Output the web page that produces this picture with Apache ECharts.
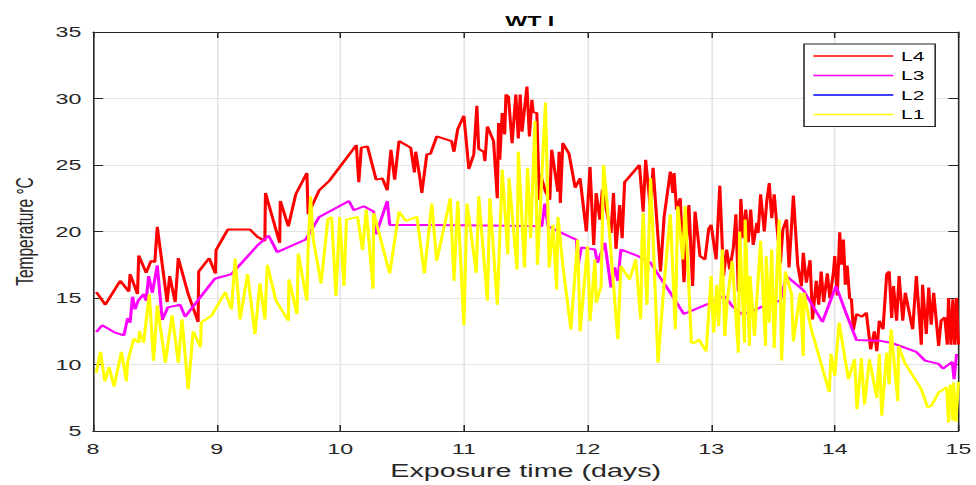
<!DOCTYPE html>
<html>
<head>
<meta charset="utf-8">
<script src="https://cdn.jsdelivr.net/npm/echarts@6/dist/echarts.min.js"></script>
<style>
html,body{margin:0;padding:0;background:#fff;overflow:hidden;}
#wrap{width:976px;height:485px;overflow:hidden;}
#chart{height:485px;transform-origin:0 0;}
</style>
</head>
<body>
<div id="wrap"><div id="chart"></div></div>
<script>
const seriesNames = ['L4', 'L3', 'L2', 'L1'];
const xTicks = [8, 9, 10, 11, 12, 13, 14, 15];
const yTicks = [5, 10, 15, 20, 25, 30, 35];

const l4X = [8.027,8.10,8.22,8.29,8.30,8.36,8.37,8.43,8.47,8.50,8.52,8.60,8.62,8.665,8.69,8.77,8.85,8.855,8.94,8.99,8.995,9.09,9.27,9.33,9.39,9.395,9.51,9.515,9.58,9.64,9.73,9.74,9.83,9.91,10.13,10.15,10.17,10.22,10.29,10.34,10.38,10.41,10.44,10.475,10.57,10.60,10.61,10.64,10.66,10.70,10.73,10.78,10.90,10.92,10.95,11.00,11.04,11.08,11.105,11.12,11.16,11.17,11.19,11.24,11.27,11.28,11.29,11.31,11.33,11.34,11.36,11.39,11.42,11.44,11.455,11.47,11.51,11.53,11.55,11.56,11.59,11.61,11.62,11.66,11.695,11.71,11.76,11.77,11.78,11.80,11.85,11.90,11.94,11.99,12.02,12.05,12.07,12.10,12.12,12.19,12.21,12.23,12.26,12.28,12.30,12.42,12.45,12.47,12.51,12.53,12.59,12.62,12.67,12.69,12.70,12.72,12.75,12.78,12.82,12.85,12.87,12.91,12.95,12.98,13.00,13.04,13.07,13.10,13.125,13.15,13.18,13.20,13.22,13.24,13.26,13.28,13.30,13.32,13.34,13.37,13.38,13.40,13.43,13.45,13.47,13.49,13.51,13.53,13.56,13.58,13.61,13.63,13.665,13.70,13.73,13.745,13.77,13.80,13.82,13.85,13.87,13.89,13.91,13.94,13.96,13.99,14.00,14.02,14.04,14.055,14.07,14.085,14.10,14.12,14.135,14.15,14.175,14.22,14.255,14.29,14.32,14.34,14.36,14.39,14.42,14.44,14.46,14.475,14.50,14.52,14.55,14.57,14.63,14.66,14.70,14.71,14.74,14.76,14.78,14.80,14.84,14.86,14.89,14.91,14.92,14.94,14.955,14.97,14.985,15.0];
const l4Y = [15.45,14.5,16.3,15.5,16.8,15.3,18.2,16.9,17.8,17.7,20.35,14.7,16.65,14.7,18.0,15.3,13.2,17.0,18.0,16.85,18.6,20.15,20.15,19.6,19.3,22.9,19.15,22.3,20.4,22.8,24.4,21.3,23.1,23.8,26.5,23.7,26.3,26.4,23.9,24.0,23.1,26.15,23.9,26.8,26.3,24.45,26.0,24.3,22.9,25.8,25.85,27.15,26.8,26.0,27.7,28.7,24.7,25.8,29.45,26.2,26.0,25.3,27.9,26.8,22.5,28.15,25.4,28.9,27.3,30.3,30.15,26.65,30.3,27.0,30.3,27.5,30.9,27.15,29.9,29.0,28.9,22.4,24.3,23.0,22.4,26.15,23.0,26.0,22.15,26.65,25.85,23.3,24.0,20.0,24.85,19.0,22.9,20.9,23.15,19.9,22.9,18.7,22.0,19.5,23.7,25.0,21.5,25.4,21.65,24.8,17.0,21.15,24.5,22.9,24.4,21.65,22.5,16.2,22.0,15.9,21.5,18.15,17.9,20.2,20.5,17.9,23.45,16.65,18.65,17.15,18.8,21.3,15.5,22.45,19.5,21.65,19.2,21.65,19.0,20.65,19.9,22.8,20.0,22.3,23.65,21.0,22.8,20.6,17.65,20.15,20.9,17.3,22.7,17.5,15.9,18.4,16.15,17.85,13.4,16.3,14.5,17.0,14.7,16.85,15.0,17.0,18.15,15.2,19.95,17.5,19.4,16.0,17.45,15.0,14.9,12.6,13.8,13.6,13.9,11.15,12.5,11.0,13.3,12.65,16.8,17.0,13.5,15.9,13.3,16.65,13.3,15.4,12.65,16.65,11.5,16.0,12.3,15.8,13.0,15.4,11.4,13.3,13.55,11.5,15.0,11.5,14.9,11.5,15.0,11.5];

const l3X = [8.027,8.075,8.18,8.25,8.28,8.30,8.32,8.34,8.365,8.41,8.43,8.45,8.48,8.52,8.56,8.605,8.705,8.745,8.985,9.12,9.335,9.42,9.49,9.72,9.83,10.07,10.11,10.19,10.27,10.29,10.38,10.40,10.74,11.63,11.655,11.68,11.79,11.87,11.91,11.92,11.95,12.06,12.08,12.14,12.19,12.22,12.245,12.27,12.41,12.51,12.58,12.67,12.78,12.97,13.11,13.17,13.25,13.33,13.48,13.56,13.61,13.745,13.90,14.01,14.09,14.175,14.36,14.47,14.66,14.73,14.84,14.875,14.95,14.965,14.985];
const l3Y = [12.45,12.95,12.4,12.2,13.5,13.15,15.1,14.15,14.8,15.3,14.8,16.65,15.4,17.45,13.35,14.3,14.5,13.6,16.45,16.8,19.0,19.7,18.45,19.4,21.1,22.3,21.6,21.9,21.5,19.8,22.3,20.5,20.5,20.4,22.1,20.4,19.9,19.55,19.4,17.3,18.8,18.65,17.65,19.15,15.8,17.3,16.3,18.65,18.15,17.65,16.65,15.4,13.8,14.55,15.15,14.4,13.8,14.0,14.65,14.8,16.65,15.6,13.2,15.9,13.9,11.85,11.8,11.6,10.95,10.3,10.05,9.7,10.2,8.9,10.8];

const l2X = [];
const l2Y = [];

const l1X = [8.027,8.06,8.095,8.13,8.17,8.23,8.27,8.28,8.33,8.37,8.375,8.41,8.455,8.49,8.52,8.585,8.64,8.69,8.72,8.77,8.81,8.87,8.875,8.96,9.07,9.12,9.15,9.19,9.25,9.31,9.35,9.39,9.41,9.48,9.58,9.585,9.65,9.66,9.73,9.74,9.76,9.78,9.845,9.90,9.93,9.965,9.995,10.03,10.05,10.14,10.18,10.21,10.265,10.27,10.40,10.475,10.53,10.62,10.68,10.74,10.78,10.89,10.92,10.95,11.00,11.025,11.10,11.12,11.19,11.21,11.27,11.31,11.355,11.365,11.43,11.44,11.49,11.515,11.54,11.575,11.595,11.66,11.69,11.72,11.75,11.76,11.80,11.865,11.92,11.94,12.00,12.02,12.06,12.07,12.11,12.13,12.16,12.245,12.27,12.34,12.39,12.43,12.44,12.45,12.48,12.51,12.53,12.57,12.62,12.67,12.71,12.73,12.77,12.79,12.84,12.87,12.90,12.96,13.00,13.02,13.045,13.06,13.09,13.11,13.13,13.17,13.22,13.23,13.27,13.275,13.31,13.315,13.35,13.40,13.44,13.445,13.47,13.49,13.51,13.53,13.55,13.57,13.60,13.65,13.665,13.72,13.745,13.75,13.81,13.955,13.97,14.00,14.035,14.11,14.16,14.18,14.215,14.24,14.28,14.34,14.36,14.38,14.42,14.44,14.455,14.51,14.515,14.565,14.70,14.75,14.78,14.84,14.905,14.92,14.935,14.955,14.96,14.98,15.0];
const l1Y = [9.4,10.95,8.75,9.8,8.35,10.95,8.75,10.2,11.95,11.65,12.5,11.65,15.3,10.3,14.45,10.15,13.7,10.15,13.4,8.15,12.5,11.3,13.15,13.7,15.45,14.15,17.95,13.4,16.8,12.3,16.1,13.4,17.5,14.8,13.3,16.4,13.8,18.35,14.8,18.8,22.65,19.5,16.1,20.95,21.1,15.15,21.1,15.9,20.9,21.1,18.6,21.65,15.7,21.4,16.85,21.5,20.8,21.1,16.85,22.1,17.8,22.5,16.3,22.3,12.95,22.1,16.9,22.65,14.8,22.5,14.5,24.65,18.3,24.0,17.15,26.0,17.3,24.8,19.5,28.3,17.5,29.7,17.3,20.5,15.65,21.1,17.5,12.65,19.4,12.5,18.9,13.3,17.9,14.65,15.9,25.0,21.9,11.9,17.4,16.4,17.9,13.4,19.15,21.4,14.5,24.0,19.65,10.15,16.15,21.3,12.65,21.9,17.9,21.9,11.65,11.65,11.9,11.0,16.65,12.4,16.0,12.9,18.65,12.15,14.8,17.8,10.9,20.0,11.65,20.9,11.4,16.65,12.15,19.3,11.4,18.15,13.15,18.65,11.25,16.4,20.9,10.3,17.0,15.3,11.75,15.4,10.65,15.4,12.65,7.95,10.8,9.15,13.15,8.9,10.4,6.65,10.5,7.0,10.4,7.5,10.8,6.15,10.9,8.5,12.65,7.25,11.4,10.15,8.15,6.8,6.9,7.9,8.3,5.65,8.5,5.8,8.65,5.7,8.7];

function zip(xs, ys) { return xs.map((x, i) => [x, ys[i]]); }

// The reference figure is stretched horizontally; draw at a narrower width and stretch.
const S = 1.55;
const W = 976 / S;
const el = document.getElementById('chart');
el.style.width = W + 'px';
el.style.transform = 'scaleX(' + S + ')';

const colors = ['#ff0000', '#ff00ff', '#0000ff', '#ffff00'];
const seriesData = [zip(l4X, l4Y), zip(l3X, l3Y), zip(l2X, l2Y), zip(l1X, l1Y)];

const axisColor = '#262626';
const font = '"Liberation Sans", Arial, Helvetica, sans-serif';

const chart = echarts.init(el, null, {renderer: 'svg', width: W, height: 485});
const baseX = {
  type: 'value', min: xTicks[0], max: xTicks[xTicks.length - 1], interval: 1,
  axisLine: {show: true, onZero: false, lineStyle: {color: axisColor, width: 1}},
  axisTick: {show: true, inside: true, length: 6, lineStyle: {color: axisColor}},
  splitLine: {show: false}
};
const baseY = {
  type: 'value', min: yTicks[0], max: yTicks[yTicks.length - 1], interval: 5,
  axisLine: {show: true, onZero: false, lineStyle: {color: axisColor, width: 1}},
  axisTick: {show: true, inside: true, length: 6.5, lineStyle: {color: axisColor}},
  splitLine: {show: false}
};

chart.setOption({
  animation: false,
  backgroundColor: '#ffffff',
  title: {
    text: 'WT I', left: 522 / S, top: 8, textAlign: 'center',
    textStyle: {fontFamily: font, fontWeight: 'bold', fontSize: 15, color: '#000'}
  },
  grid: {left: 86.5 / S, right: 17 / S, top: 32, bottom: 53, containLabel: false},
  legend: {
    orient: 'vertical', left: 804 / S, top: 44,
    data: seriesNames,
    icon: 'path://M0,0 H60 V2 H0 Z',
    itemWidth: 80 / S, itemHeight: 14, itemGap: 5.5,
    padding: [5, 7, 5, 6],
    backgroundColor: '#ffffff', borderColor: '#262626', borderWidth: 1,
    textStyle: {fontFamily: font, fontSize: 13.5, color: '#000'}
  },
  xAxis: [
    Object.assign({}, baseX, {
      position: 'bottom',
      axisLabel: {show: true, margin: 10, fontFamily: font, fontSize: 15, color: axisColor},
      splitLine: {show: true, lineStyle: {color: '#e3e3e3', width: 1}},
      name: 'Exposure time (days)', nameLocation: 'middle', nameGap: 29,
      nameTextStyle: {fontFamily: font, fontSize: 18.5, color: axisColor}
    }),
    Object.assign({}, baseX, {position: 'top', axisLabel: {show: false}})
  ],
  yAxis: [
    Object.assign({}, baseY, {
      position: 'left',
      axisLabel: {show: true, margin: 7.5, fontFamily: font, fontSize: 15, color: axisColor},
      splitLine: {show: true, lineStyle: {color: '#e3e3e3', width: 1}},
      name: 'Temperature °C', nameLocation: 'middle', nameGap: 36, nameRotate: 90,
      nameTextStyle: {fontFamily: font, fontSize: 15.5, color: axisColor}
    }),
    Object.assign({}, baseY, {position: 'right', axisLabel: {show: false}})
  ],
  series: seriesNames.map((name, i) => ({
    name: name, type: 'line', xAxisIndex: 0, yAxisIndex: 0,
    data: seriesData[i], showSymbol: false, symbol: 'none',
    lineStyle: {color: colors[i], width: 2},
    itemStyle: {color: colors[i]},
    z: 2 + i
  }))
});
</script>
</body>
</html>
